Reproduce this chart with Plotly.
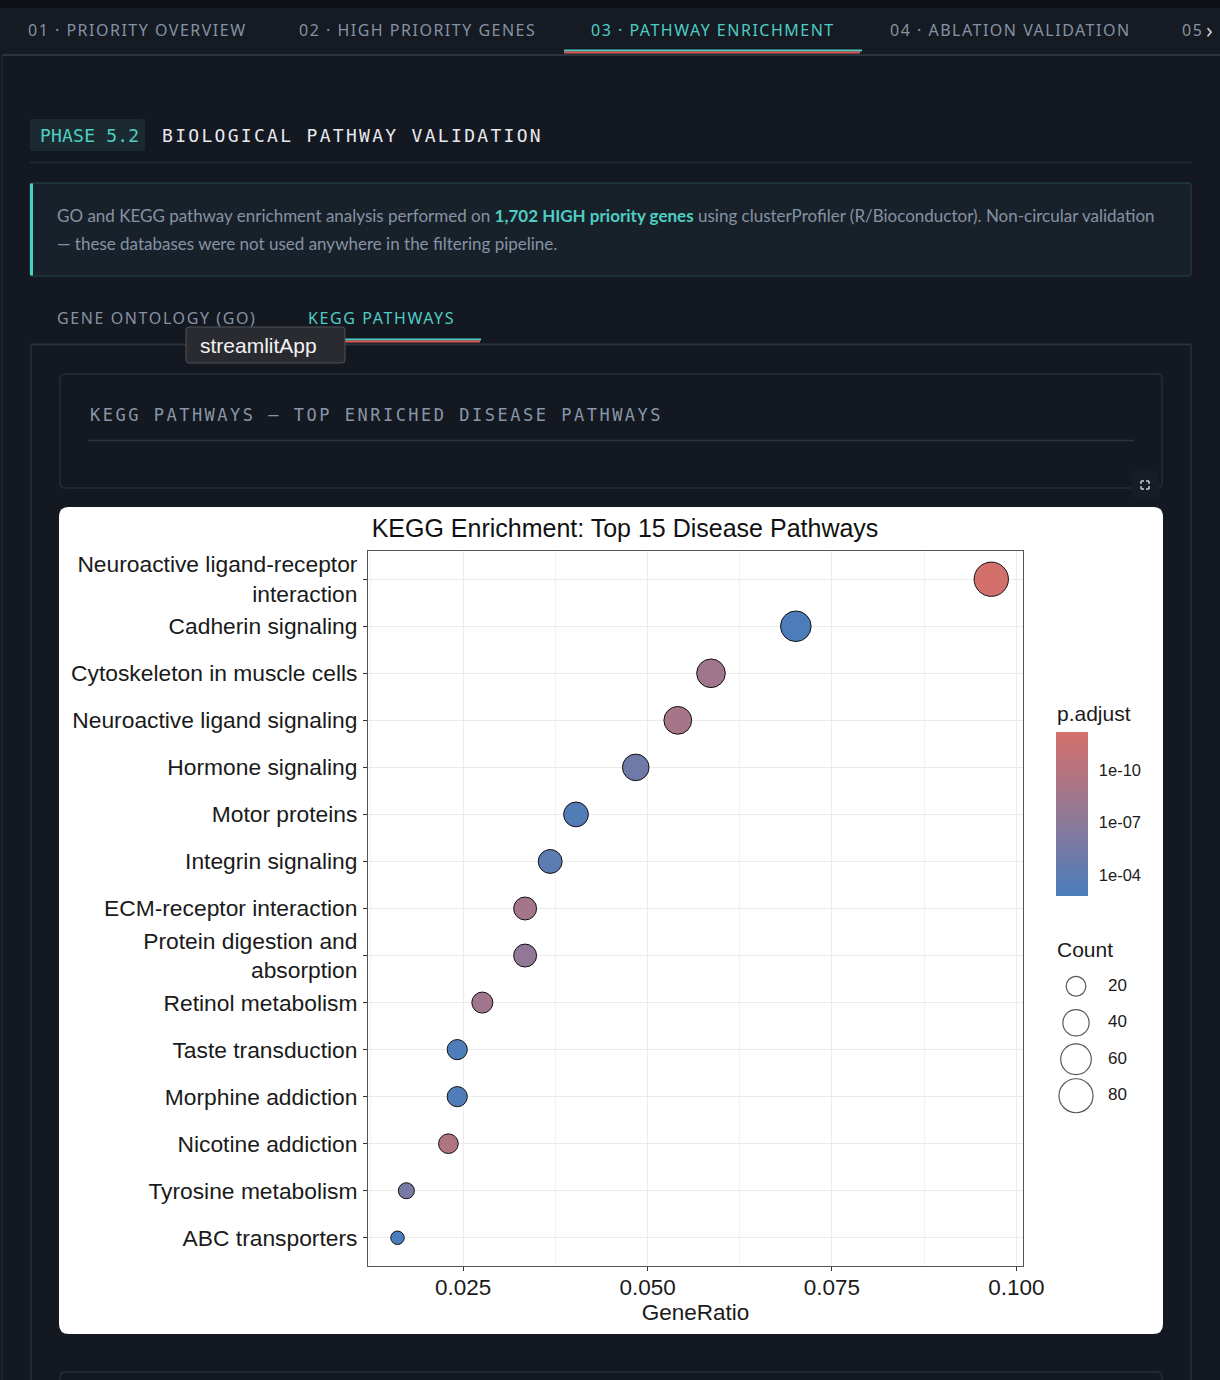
import math
import plotly.graph_objects as go

# ---------------- data ----------------
pathways = [
    "Neuroactive ligand-receptor<br>interaction",
    "Cadherin signaling",
    "Cytoskeleton in muscle cells",
    "Neuroactive ligand signaling",
    "Hormone signaling",
    "Motor proteins",
    "Integrin signaling",
    "ECM-receptor interaction",
    "Protein digestion and<br>absorption",
    "Retinol metabolism",
    "Taste transduction",
    "Morphine addiction",
    "Nicotine addiction",
    "Tyrosine metabolism",
    "ABC transporters",
]
gene_ratio = [0.0966, 0.0701, 0.0586, 0.0541, 0.0484, 0.0403, 0.0368, 0.0334,
              0.0334, 0.0276, 0.0242, 0.0242, 0.0230, 0.0173, 0.0161]
counts = [82, 60, 50, 46, 41, 34, 31, 28, 28, 23, 21, 21, 20, 15, 14]
p_adjust = [6.8e-13, 1.2e-3, 4e-9, 1.3e-9, 7e-6, 5e-4, 1.2e-4, 2.5e-9,
            5e-8, 4e-9, 8e-4, 7e-4, 2.8e-10, 2.5e-6, 1.6e-3]
count_breaks = [20, 40, 60, 80]
padj_ticks = [1e-10, 1e-7, 1e-4]
padj_ticktext = ["1e-10", "1e-07", "1e-04"]
x_ticks = [0.025, 0.050, 0.075, 0.100]
x_ticktext = ["0.025", "0.050", "0.075", "0.100"]

tabs = ["01 · PRIORITY OVERVIEW", "02 · HIGH PRIORITY GENES", "03 · PATHWAY ENRICHMENT",
        "04 · ABLATION VALIDATION", "05"]
subtabs = ["GENE ONTOLOGY (GO)", "KEGG PATHWAYS"]

# ---------------- helpers ----------------
W, H = 1220, 1380
BG = "#141821"
TEAL = "#4ecdc4"
RED = "#e05a55"
GRAY_TXT = "#8592a3"


def X(px):
    return px / W


def Y(py):
    return 1 - py / H


shapes = []
annotations = []


def rect(x0, y0, x1, y1, fill=None, line=None, lw=0, layer="below"):
    shapes.append(dict(type="rect", xref="paper", yref="paper",
                       x0=X(x0), x1=X(x1), y0=Y(y0), y1=Y(y1),
                       fillcolor=fill if fill else "rgba(0,0,0,0)",
                       line=dict(color=line if line else "rgba(0,0,0,0)", width=lw),
                       layer=layer))


def rrect(x0, y0, x1, y1, r, fill=None, line=None, lw=0, layer="below"):
    p = (f"M {X(x0 + r)},{Y(y0)} L {X(x1 - r)},{Y(y0)} Q {X(x1)},{Y(y0)} {X(x1)},{Y(y0 + r)} "
         f"L {X(x1)},{Y(y1 - r)} Q {X(x1)},{Y(y1)} {X(x1 - r)},{Y(y1)} "
         f"L {X(x0 + r)},{Y(y1)} Q {X(x0)},{Y(y1)} {X(x0)},{Y(y1 - r)} "
         f"L {X(x0)},{Y(y0 + r)} Q {X(x0)},{Y(y0)} {X(x0 + r)},{Y(y0)} Z")
    shapes.append(dict(type="path", xref="paper", yref="paper", path=p,
                       fillcolor=fill if fill else "rgba(0,0,0,0)",
                       line=dict(color=line if line else "rgba(0,0,0,0)", width=lw),
                       layer=layer))


def hline(x0, x1, y, color, w=1, layer="below"):
    shapes.append(dict(type="line", xref="paper", yref="paper", x0=X(x0), x1=X(x1),
                       y0=Y(y), y1=Y(y), line=dict(color=color, width=w), layer=layer))


def vline(x, y0, y1, color, w=1, layer="below"):
    shapes.append(dict(type="line", xref="paper", yref="paper", x0=X(x), x1=X(x),
                       y0=Y(y0), y1=Y(y1), line=dict(color=color, width=w), layer=layer))


def text(t, x, y, size, color, family="Noto Sans", anchor="left", spacing=None):
    if spacing is not None:
        t = f'<span style="letter-spacing:{spacing}px">{t}</span>'
    annotations.append(dict(text=t, x=X(x), y=Y(y), xref="paper", yref="paper",
                            xanchor=anchor, yanchor="middle", showarrow=False,
                            font=dict(size=size, color=color, family=family)))


# ---------------- page chrome ----------------
rect(0, 0, 1220, 8, fill="#0e1117")
rect(0, 8, 1220, 55, fill="#151a23")
hline(2, 1220, 55, "#2b333e", 2)
vline(2, 55, 1380, "#232a34", 1.5)

tab_x = [26, 297, 589, 888, 1180]
for i, (t, tx) in enumerate(zip(tabs, tab_x)):
    text(t, tx, 30, 16, TEAL if i == 2 else GRAY_TXT, spacing=1.5)
text("›", 1204, 29, 22, "#c9d0d8")
hline(564, 862, 50.5, TEAL, 2)
hline(564, 860, 52.5, RED, 2)

# heading
rrect(30, 119, 145, 151, 2, fill="#1b2a30")
text("PHASE 5.2", 38, 135, 18, TEAL, family="DejaVu Sans Mono", spacing=0.2)
text("BIOLOGICAL PATHWAY VALIDATION", 160, 135, 18, "#e6e9ee",
     family="DejaVu Sans Mono", spacing=2.3)
hline(30, 1191, 162.5, "#232a34", 1.5)

# info box
rrect(30, 183, 1191, 276, 3, fill="#18212a", line="#21393f", lw=1.5)
rect(30, 183.5, 33, 275.5, fill=TEAL)
text("GO and KEGG pathway enrichment analysis performed on "
     f"<b><span style='color:{TEAL}'>1,702 HIGH priority genes</span></b> "
     "using clusterProfiler (R/Bioconductor). Non-circular validation",
     55, 216, 17, "#8592a3", family="Lato")
text("— these databases were not used anywhere in the filtering pipeline.",
     55, 244, 17, "#8592a3", family="Lato")

# sub tabs
text(subtabs[0], 55, 318, 16, GRAY_TXT, spacing=1.6)
text(subtabs[1], 306, 318, 16, TEAL, spacing=1.6)
hline(31, 1191, 344.5, "#2a323d", 2)
vline(31, 344, 1380, "#262e39", 1.5)
vline(1191, 344, 1380, "#262e39", 1.5)
hline(296, 481, 339.5, TEAL, 2)
hline(296, 480, 341.5, RED, 2)
# tooltip
rrect(186, 327, 345, 363, 3, fill="#2a2b30", line="#505157", lw=1)
text("streamlitApp", 198, 345, 21, "#f2f2f2", family="Liberation Sans")

# inner card
rrect(60, 374, 1162, 488, 5, line="#252d38", lw=1.5)
text("KEGG PATHWAYS — TOP ENRICHED DISEASE PATHWAYS", 88, 415, 17, "#8796a8",
     family="DejaVu Sans Mono", spacing=2.5)
hline(88, 1134, 440.5, "#2a323d", 1.5)

# expand icon
rrect(1131, 471, 1159, 499, 5, fill="#171c25")
ic = "#c5cad1"
for (cx, cy, dx, dy) in [(1141, 481, 1, 1), (1149, 481, -1, 1), (1141, 489, 1, -1), (1149, 489, -1, -1)]:
    hline(cx, cx + 3 * dx, cy, ic, 1.5, layer="above")
    vline(cx, cy, cy + 3 * dy, ic, 1.5, layer="above")

# white chart card
rrect(59, 507, 1163, 1334, 10, fill="white")
# next card below
rrect(60, 1372, 1162, 1440, 5, line="#252d38", lw=1.5)

# ---------------- chart ----------------
neglog = [-math.log10(p) for p in p_adjust]
cmin, cmax = min(counts), max(counts)
zmin, zmax = min(neglog), max(neglog)


def diam(c):
    return 13.5 + 20.8 * math.sqrt(max(c - cmin, 0) / (cmax - cmin))


colorscale = [[0.0, "#4a7dbb"], [0.5, "#937895"], [1.0, "#d4706b"]]
FONT = "Liberation Sans"
CB_TOP, CB_LEN, CB_X, CB_W = 732, 164, 1056, 32

fig = go.Figure()
fig.add_trace(go.Scatter(
    x=gene_ratio, y=pathways, mode="markers", showlegend=False,
    marker=dict(
        size=[diam(c) for c in counts], color=neglog, colorscale=colorscale,
        cmin=zmin, cmax=zmax, opacity=1,
        line=dict(color="#111111", width=1),
        colorbar=dict(
            x=X(CB_X), xanchor="left", y=Y(CB_TOP), yanchor="top",
            len=CB_LEN, lenmode="pixels", thickness=CB_W, thicknessmode="pixels",
            xpad=0, ypad=0, outlinewidth=0,
            tickvals=[-math.log10(v) for v in padj_ticks], ticktext=padj_ticktext,
            ticks="outside", ticklen=8, tickcolor="rgba(0,0,0,0)", tickwidth=1,
            tickfont=dict(size=16.5, color="#1a1a1a", family=FONT),
        ),
    ),
    customdata=[[c, p] for c, p in zip(counts, p_adjust)],
    hovertemplate="%{y}<br>GeneRatio=%{x}<br>Count=%{customdata[0]}<br>p.adjust=%{customdata[1]:.2e}<extra></extra>",
))

# white tick dashes inside colorbar (ggplot style, both edges)
for v in padj_ticks:
    ty = CB_TOP + (zmax - (-math.log10(v))) / (zmax - zmin) * CB_LEN
    hline(CB_X, CB_X + 6, ty, "white", 1, layer="above")
    hline(CB_X + CB_W - 6, CB_X + CB_W, ty, "white", 1, layer="above")

# size legend (Count)
brk_lbl = [str(b) for b in count_breaks]
fig.add_trace(go.Scatter(
    x=[20] * len(count_breaks), y=brk_lbl, mode="markers", showlegend=False,
    marker=dict(size=[diam(b) for b in count_breaks], color="white",
                line=dict(color="#111111", width=1.2)),
    xaxis="x2", yaxis="y2", hoverinfo="skip"))
fig.add_trace(go.Scatter(
    x=[52] * len(count_breaks), y=brk_lbl, mode="text", text=brk_lbl,
    textposition="middle right", showlegend=False,
    textfont=dict(size=17, color="#1a1a1a", family=FONT),
    xaxis="x2", yaxis="y2", hoverinfo="skip"))

annotations.append(dict(text="p.adjust", x=X(1055), y=Y(713), xref="paper", yref="paper",
                        xanchor="left", yanchor="middle", showarrow=False,
                        font=dict(size=21, color="#1a1a1a", family=FONT)))
annotations.append(dict(text="Count", x=X(1055), y=Y(950), xref="paper", yref="paper",
                        xanchor="left", yanchor="middle", showarrow=False,
                        font=dict(size=21, color="#1a1a1a", family=FONT)))

fig.update_layout(
    width=W, height=H, margin=dict(l=0, r=0, t=0, b=0, autoexpand=False),
    paper_bgcolor=BG, plot_bgcolor="white",
    title=dict(text="KEGG Enrichment: Top 15 Disease Pathways", x=X(625), y=Y(528),
               xanchor="center", yanchor="middle", xref="paper", yref="paper",
               font=dict(size=25, color="#111111", family=FONT)),
    xaxis=dict(domain=[X(368), X(1023)], range=[0.0121, 0.1009],
               tickvals=x_ticks, ticktext=x_ticktext,
               showgrid=True, gridcolor="#ebebeb", gridwidth=1,
               minor=dict(tickvals=[0.0125, 0.0375, 0.0625, 0.0875], showgrid=True,
                          gridcolor="#f3f3f3", gridwidth=1, ticks=""),
               ticks="outside", ticklen=4, tickcolor="#333333", tickwidth=1,
               showline=True, linecolor="#555555", linewidth=1, mirror=True,
               zeroline=False, ticklabelstandoff=-3,
               tickfont=dict(size=22.5, color="#1a1a1a", family=FONT),
               title=dict(text="GeneRatio", standoff=2,
                          font=dict(size=22.5, color="#1a1a1a", family=FONT))),
    yaxis=dict(domain=[Y(1266), Y(551)], type="category",
               categoryorder="array", categoryarray=pathways[::-1],
               range=[-0.6, 14.6], showgrid=True, gridcolor="#ebebeb", gridwidth=1,
               ticks="outside", ticklen=4, tickcolor="#333333", tickwidth=1,
               showline=True, linecolor="#555555", linewidth=1, mirror=True,
               zeroline=False, ticklabelstandoff=1,
               tickfont=dict(size=22.8, color="#1a1a1a", family=FONT)),
    xaxis2=dict(domain=[X(1056), X(1160)], range=[0, 104], visible=False,
                anchor="y2", fixedrange=True),
    yaxis2=dict(domain=[Y(1114), Y(968)], type="category",
                categoryorder="array", categoryarray=brk_lbl[::-1],
                range=[-0.5, 3.5], visible=False, anchor="x2", fixedrange=True),
    shapes=shapes, annotations=annotations,
    hoverlabel=dict(font=dict(family=FONT)),
)

fig.write_html("out.html", post_script="document.body.style.margin='0';")
